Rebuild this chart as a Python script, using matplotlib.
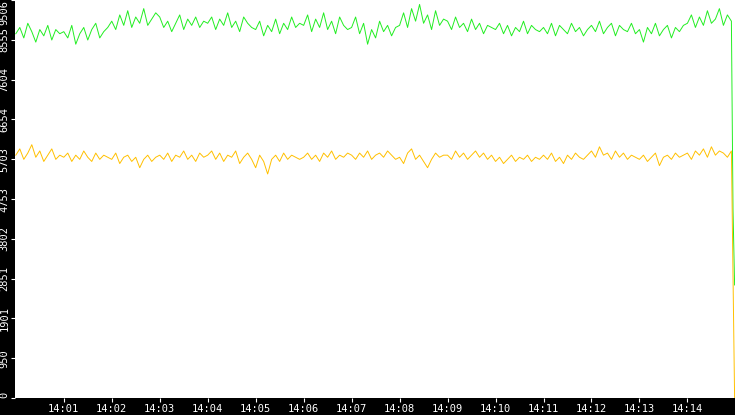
import numpy as np
import matplotlib.pyplot as plt

# seconds after 14:00:00, one sample every 5 s
green = [
    8700, 8850, 8600, 8950, 8750, 8500, 8800, 8650, 8900, 8550, 8800, 8700,
    8750, 8600, 8900, 8450, 8700, 8850, 8550, 8800, 8950, 8600, 8750, 8850,
    9000, 8800, 9150, 8900, 9250, 8850, 9100, 8950, 9300, 8900, 9050, 9200,
    9100, 8850, 9000, 8750, 8950, 9150, 8800, 9050, 8900, 9100, 8850, 9000,
    8950, 9100, 8800, 9050, 8900, 9200, 8850, 9000, 8750, 9100, 8950, 8850,
    8800, 9000, 8650, 8900, 8750, 9050, 8700, 8950, 8800, 9100, 8850, 8950,
    8900, 9150, 8750, 9050, 8850, 9200, 8800, 9000, 8700, 9100, 8900, 8800,
    8850, 9100, 8700, 8950, 8450, 8800, 8600, 9000, 8750, 8900, 8650, 8850,
    8900, 9200, 8850, 9300, 9000, 9400, 8950, 9150, 8800, 9250, 8900, 9050,
    9000, 8800, 9100, 8850, 8950, 8750, 9050, 8800, 8950, 8700, 8900, 8850,
    8800, 8950, 8700, 8900, 8650, 8850, 8750, 9000, 8700, 8900, 8800, 8750,
    8850, 8700, 8950, 8650, 8900, 8800, 8700, 8950, 8750, 8850, 8650, 8800,
    8900, 8750, 9000, 8700, 8850, 8950, 8650, 8900, 8800, 8750, 8950, 8700,
    8800, 8500, 8850, 8700, 8950, 8650, 8800, 8900, 8600, 8850, 8750, 8900,
    8950, 9150, 8850, 9100, 8900, 9250, 8950, 9050, 9300, 8900, 9150, 9000,
]
yellow = [
    5800, 5950, 5700, 5850, 6050, 5750, 5900, 5650, 5800, 5950, 5700, 5800,
    5750, 5850, 5650, 5800, 5700, 5900, 5750, 5650, 5850, 5700, 5800, 5750,
    5700, 5850, 5600, 5750, 5800, 5650, 5750, 5500, 5700, 5800, 5650, 5750,
    5800, 5700, 5850, 5650, 5800, 5750, 5900, 5700, 5800, 5650, 5850, 5750,
    5800, 5900, 5700, 5850, 5650, 5800, 5750, 5900, 5600, 5750, 5850, 5700,
    5500, 5800, 5650, 5350, 5700, 5800, 5650, 5850, 5700, 5800, 5750, 5700,
    5750, 5850, 5700, 5800, 5650, 5850, 5750, 5900, 5700, 5800, 5750, 5850,
    5800, 5700, 5850, 5750, 5900, 5700, 5800, 5850, 5750, 5900, 5800, 5700,
    5750, 5600, 5850, 5950, 5700, 5800, 5650, 5500, 5700, 5850, 5750, 5800,
    5800, 5700, 5900, 5750, 5850, 5700, 5800, 5900, 5750, 5850, 5700, 5800,
    5650, 5750, 5600, 5700, 5800, 5650, 5750, 5700, 5800, 5650, 5750, 5700,
    5800, 5700, 5850, 5650, 5750, 5600, 5800, 5700, 5850, 5750, 5700, 5800,
    5900, 5750, 6000, 5800, 5850, 5700, 5900, 5750, 5850, 5700, 5800, 5750,
    5700, 5800, 5650, 5750, 5850, 5550, 5750, 5800, 5700, 5850, 5750, 5800,
    5850, 5700, 5900, 5800, 5950, 5750, 6000, 5800, 5900, 5850, 5750, 5900,
]
# tail where the series drop off at the right edge
green_tail_t = [897, 899]
green_tail = [4500, 2700]
yellow_tail_t = [899]
yellow_tail = [0]

y_ticks = [0, 950, 1901, 2851, 3802, 4753, 5703, 6654, 7604, 8555, 9506]
x_ticks = [60 * m for m in range(1, 15)]
x_labels = ["14:%02d" % m for m in range(1, 15)]

t = list(np.arange(len(green)) * 5)

fig = plt.figure(figsize=(7.35, 4.15), dpi=100, facecolor="black")
ax = fig.add_axes([15 / 735, 17 / 415, 720 / 735, 398 / 415])
ax.set_facecolor("white")

ax.plot(t + green_tail_t, green + green_tail, color="#22ee22", lw=0.7)
ax.plot(t + yellow_tail_t, yellow + yellow_tail, color="#ffc000", lw=0.7)

ax.set_xlim(-1, 899.5)
ax.set_ylim(0, 9506)
ax.set_yticks(y_ticks)
ax.set_yticklabels([str(v) for v in y_ticks], rotation=90, va="center",
                   family="DejaVu Sans Mono")
ax.get_yticklabels()[-1].set_va("top")
ax.get_yticklabels()[0].set_va("bottom")
ax.set_xticks(x_ticks)
ax.set_xticklabels(x_labels, family="DejaVu Sans Mono")
ax.tick_params(colors="white", labelsize=7.5, length=3, pad=1)
for s in ax.spines.values():
    s.set_visible(False)

fig.savefig("out.png", dpi=100, facecolor="black")
